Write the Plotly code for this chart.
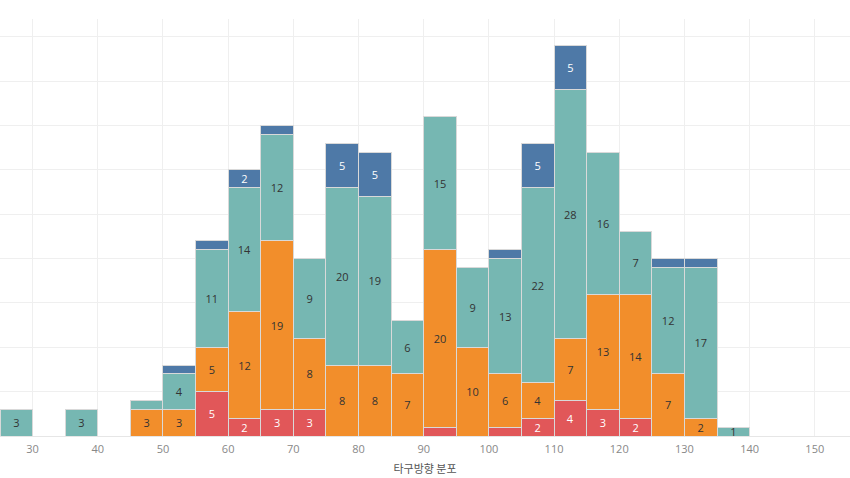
import plotly.graph_objects as go

# bin left edges (width 5)
bins = [25, 35, 45, 50, 55, 60, 65, 70, 75, 80, 85, 90, 95, 100, 105, 110, 115, 120, 125, 130, 135]
red    = [0, 0, 0, 0, 5, 2, 3, 3, 0, 0, 0, 1, 0, 1, 2, 4, 3, 2, 0, 0, 0]
orange = [0, 0, 3, 3, 5, 12, 19, 8, 8, 8, 7, 20, 10, 6, 4, 7, 13, 14, 7, 2, 0]
teal   = [3, 3, 1, 4, 11, 14, 12, 9, 20, 19, 6, 15, 9, 13, 22, 28, 16, 7, 12, 17, 1]
blue   = [0, 0, 0, 1, 1, 2, 1, 0, 5, 5, 0, 0, 0, 1, 5, 5, 0, 0, 1, 1, 0]
# single-count segments that still carry a label in the reference
teal_label_ones = [135]

x_title = "타구방향 분포"
x_ticks = [30, 40, 50, 60, 70, 80, 90, 100, 110, 120, 130, 140, 150]

centers = [b + 2.5 for b in bins]


def labels(vals, keep_ones=()):
    out = []
    for b, v in zip(bins, vals):
        if v >= 2 or (v == 1 and b in keep_ones):
            out.append(str(v))
        else:
            out.append("")
    return out


series = [
    ("red", red, "#e15759", "#ffffff", ()),
    ("orange", orange, "#f28e2b", "#333333", ()),
    ("teal", teal, "#76b7b2", "#333333", teal_label_ones),
    ("blue", blue, "#4e79a7", "#ffffff", ()),
]

fig = go.Figure()
for name, vals, col, tcol, keep in series:
    fig.add_trace(go.Bar(
        x=centers, y=vals, width=5, name=name,
        marker=dict(color=col, line=dict(color="#d9d9d9", width=1)),
        text=labels(vals, keep), textposition="inside", insidetextanchor="middle",
        textangle=0, textfont=dict(color=tcol, size=11, family="Open Sans, sans-serif"),
        showlegend=False, hoverinfo="skip",
    ))

fig.update_layout(
    barmode="stack",
    width=850, height=478,
    margin=dict(l=0, r=0, t=19, b=42, autoexpand=False),
    plot_bgcolor="white", paper_bgcolor="white",
    uniformtext=dict(minsize=11, mode="show"),
    font=dict(family="Open Sans, Noto Sans CJK KR, sans-serif"),
)
fig.update_xaxes(
    range=[25, 155.4], tickvals=x_ticks, ticks="", showgrid=True, gridcolor="#efefef",
    tickfont=dict(size=11, color="#888888"), zeroline=False, ticklabelstandoff=3,
    showline=True, linecolor="#e6e6e6",
    title=dict(text=x_title, font=dict(size=11, color="#555555", family="Noto Sans CJK KR, sans-serif"), standoff=10),
)
fig.update_yaxes(
    range=[0, 47], dtick=5, showticklabels=False, showgrid=True, gridcolor="#efefef",
    zeroline=False, ticks="",
)

fig.write_html("out.html", config={"displayModeBar": False},
               post_script="document.body.style.margin='0';")
